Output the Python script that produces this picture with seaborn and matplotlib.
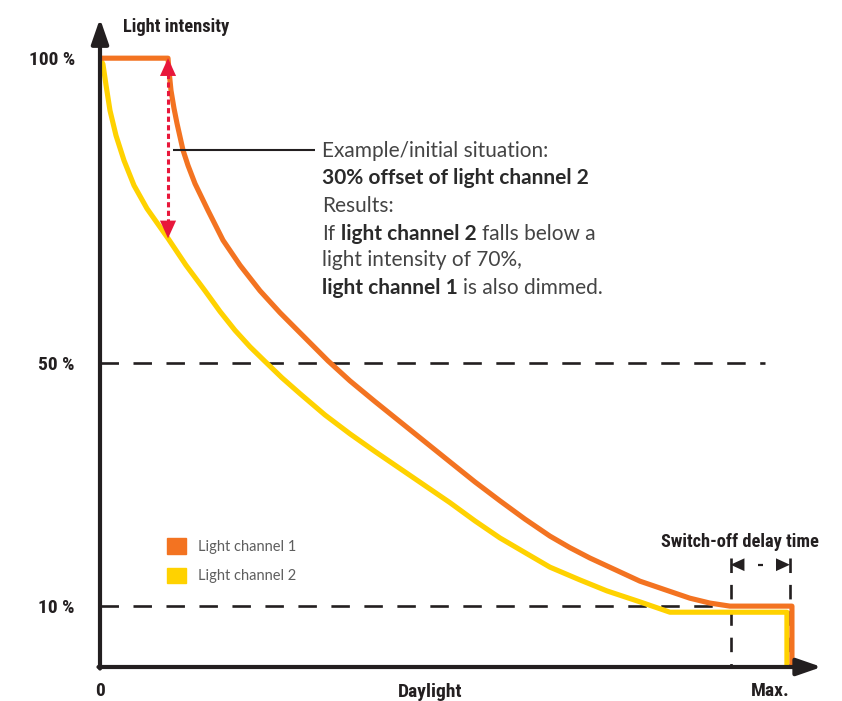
import matplotlib
matplotlib.use("Agg")
import matplotlib.pyplot as plt
import matplotlib.patches as mpatches
from matplotlib import font_manager, transforms as mtransforms
import pandas as pd
import seaborn as sns

# ---------------- data ----------------
ch1_name = "Light channel 1"
ch2_name = "Light channel 2"
ch1_x = [0.0, 9.86, 10.0, 10.29, 10.72, 11.16, 12.03, 12.75, 13.77, 15.65, 17.83,
         20.29, 23.19, 26.09, 28.99, 33.04, 36.23, 39.86, 43.48, 47.10, 50.72,
         54.35, 57.97, 61.59, 65.22, 68.12, 71.01, 74.64, 78.26, 81.88, 85.51,
         88.41, 91.30, 100.30, 100.30]
ch1_y = [100.0, 100.0, 98.0, 94.7, 91.8, 89.3, 84.9, 82.4, 79.4, 75.0, 70.1,
         66.0, 61.8, 58.2, 54.9, 50.3, 47.0, 43.6, 40.3, 37.0, 33.7,
         30.4, 27.3, 24.3, 21.5, 19.6, 17.9, 16.0, 14.1, 12.7, 11.3,
         10.5, 10.0, 10.0, 0.0]
ch2_x = [0.0, 0.43, 0.87, 1.45, 2.32, 3.48, 4.93, 6.81, 9.86, 12.46, 15.22,
         17.39, 19.57, 21.74, 23.91, 26.38, 28.99, 32.61, 36.23, 39.86, 43.48,
         47.10, 50.72, 54.35, 57.97, 61.59, 65.22, 69.57, 73.48, 78.26, 82.61,
         99.57, 99.57]
ch2_y = [100.0, 99.0, 95.6, 91.4, 87.3, 83.2, 79.1, 75.3, 70.4, 66.0, 61.8,
         58.4, 55.3, 52.6, 50.2, 47.5, 44.9, 41.4, 38.3, 35.4, 32.6,
         29.8, 27.0, 24.0, 21.2, 18.8, 16.4, 14.3, 12.5, 10.7, 9.0,
         9.0, 0.0]
ytick_vals = [10, 50, 100]
ytick_labels = ["10 %", "50 %", "100 %"]
xtick_vals = [0, 100]
xtick_labels = ["0", "Max."]
offset_x = 9.86
offset_top = 100
offset_bottom = 70.4
delay_start = 91.4
delay_end = 100.0

c_orange = "#F37321"
c_yellow = "#FFD200"
c_red = "#E8173B"
c_black = "#231F20"
c_text = "#444444"
c_legend = "#5E5E5E"

# ---------------- fonts ----------------
sns.set_theme(style="white")
names = {f.name for f in font_manager.fontManager.ttflist}
cond = "DejaVu Sans"
for cand in ["Roboto Condensed", "Liberation Sans Narrow", "Open Sans Condensed",
             "Noto Sans Condensed", "DejaVu Sans Condensed"]:
    if cand in names:
        cond = cand
        break
body = "Lato" if "Lato" in names else "DejaVu Sans"
plt.rcParams["font.family"] = [body, "DejaVu Sans"]
cond_kw = dict(family=[cond, "DejaVu Sans"], fontweight="bold", fontstretch="condensed",
               color=c_black)

fig = plt.figure(figsize=(8.42, 7.01), dpi=100)
ax = fig.add_axes([100 / 842, 34 / 701, 723 / 842, 649 / 701])
ax.set_xlim(0, 104.8)
ax.set_ylim(0, 106.6)
ax.set_facecolor("white")
for s in ax.spines.values():
    s.set_visible(False)

# reference dashed lines
dash_h = (0, (7, 5.5))
ax.hlines(50, 0, 96.4, colors=c_black, lw=1.9, linestyles=[dash_h], zorder=1)
ax.hlines(10, 0, delay_start, colors=c_black, lw=1.9, linestyles=[dash_h], zorder=1)
ax.vlines([delay_start, delay_end], 17.9, 0, colors=c_black, lw=1.9,
          linestyles=[(0, (5.5, 4.5))], zorder=1)

# curves
df = pd.DataFrame({
    "x": ch2_x + ch1_x,
    "y": ch2_y + ch1_y,
    "channel": [ch2_name] * len(ch2_x) + [ch1_name] * len(ch1_x),
})
sns.lineplot(data=df, x="x", y="y", hue="channel", hue_order=[ch2_name, ch1_name],
             palette={ch1_name: c_orange, ch2_name: c_yellow}, estimator=None,
             sort=False, lw=3.7, legend=False, ax=ax, zorder=3)
for ln in ax.get_lines():
    ln.set_solid_joinstyle("round")
    ln.set_solid_capstyle("butt")

# axes arrows
ap = dict(arrowstyle="-|>,head_length=0.75,head_width=0.26", mutation_scale=20,
          lw=3, color=c_black, shrinkA=0, shrinkB=0)
ax.annotate("", xy=(104.6, 0), xytext=(-0.22, 0), arrowprops=ap, annotation_clip=False, zorder=5)
ax.annotate("", xy=(0, 106.5), xytext=(0, -0.25), arrowprops=ap, annotation_clip=False, zorder=5)

# ticks & labels
ax.set_yticks(ytick_vals, ytick_labels)
ax.set_xticks(xtick_vals, xtick_labels)
ax.tick_params(axis="y", length=0, pad=18)
ax.tick_params(axis="x", length=0, pad=11)
for lbl in ax.get_yticklabels() + ax.get_xticklabels():
    lbl.set_family([cond, "DejaVu Sans"])
    lbl.set_fontweight("bold")
    lbl.set_fontstretch("condensed")
    lbl.set_fontsize(14)
    lbl.set_color(c_black)
ax.get_xticklabels()[1].set_ha("right")
ax.set_xlabel("Daylight", fontsize=14, **cond_kw)
ax.xaxis.set_label_coords(47.8 / 104.8, -16 / 649)
ax.xaxis.label.set_va("top")
ax.set_ylabel("Light intensity", fontsize=13.3, rotation=0, ha="left", va="center", **cond_kw)
ax.yaxis.set_label_coords(23 / 723, (667 - 27) / 649)

# red offset arrow
hp = dict(arrowstyle="-|>,head_length=0.64,head_width=0.29", mutation_scale=20,
          lw=0, color=c_red, shrinkA=0, shrinkB=0)
ax.annotate("", xy=(offset_x, offset_top), xytext=(offset_x, offset_top - 3.0), arrowprops=hp, zorder=6)
ax.annotate("", xy=(offset_x, offset_bottom), xytext=(offset_x, offset_bottom + 3.0), arrowprops=hp, zorder=6)
ax.vlines(offset_x, offset_bottom + 2.4, offset_top - 2.4, colors=c_red, lw=2.2,
          linestyles=[(0, (1.7, 1.1))], zorder=6)

# leader line
ax.hlines(84.9, 10.6, 31.2, colors=c_black, lw=1.5, zorder=4)

# delay arrow
dp = dict(arrowstyle="-|>,head_length=0.5,head_width=0.23", mutation_scale=20,
          lw=0, color=c_black, shrinkA=0, shrinkB=0)
ax.annotate("", xy=(delay_start, 16.8), xytext=(delay_start + 2.0, 16.8), arrowprops=dp, zorder=5)
ax.annotate("", xy=(delay_end, 16.8), xytext=(delay_end - 2.0, 16.8), arrowprops=dp, zorder=5)
ax.hlines(16.8, 95.4, 96.1, colors=c_black, lw=1.6, zorder=5)
ax.text(92.8, 20.6, "Switch-off delay time", fontsize=13.2, ha="center", va="center", **cond_kw)

# annotation text block with mixed weights
renderer = fig.canvas.get_renderer()
fs_note = 15


def text_width(s, weight):
    t = ax.text(0, 0, s, fontsize=fs_note, fontweight=weight)
    w = t.get_window_extent(renderer).width
    t.remove()
    return w


space_w = text_width("a a", "normal") - text_width("aa", "normal")


def rich_line(x, y, parts):
    dx = 0.0
    for i, (s, weight) in enumerate(parts):
        if i > 0:
            dx += space_w
        tr = mtransforms.offset_copy(ax.transData, fig=fig, x=dx, y=0, units="dots")
        color = "#2A2A2A" if weight == "bold" else c_text
        t = ax.text(x, y, s, fontsize=fs_note, fontweight=weight, color=color,
                    ha="left", va="baseline", transform=tr)
        dx += t.get_window_extent(renderer).width


note_x = 32.2
rich_line(note_x, 83.7, [("Example/initial situation:", "normal")])
rich_line(note_x, 79.3, [("30% offset of light channel 2", "bold")])
rich_line(note_x, 74.7, [("Results:", "normal")])
rich_line(note_x, 70.2, [("If", "normal"), ("light channel 2", "bold"), ("falls below a", "normal")])
rich_line(note_x, 65.8, [("light intensity of 70%,", "normal")])
rich_line(note_x, 61.3, [("light channel 1", "bold"), ("is also dimmed.", "normal")])

# legend
handles = [mpatches.Patch(color=c_orange, label=ch1_name),
           mpatches.Patch(color=c_yellow, label=ch2_name)]
leg = ax.legend(handles=handles, loc="upper left", frameon=False,
                bbox_to_anchor=(9.7, (666 - 537) / 6.08), bbox_transform=ax.transData,
                borderpad=0, borderaxespad=0, handlelength=1.3, handleheight=1.3,
                handletextpad=0.8, labelspacing=0.95,
                prop={"family": body, "size": 10.5, "weight": "normal"})
for t in leg.get_texts():
    t.set_color(c_legend)

fig.savefig("out.png", dpi=100, facecolor="white")
